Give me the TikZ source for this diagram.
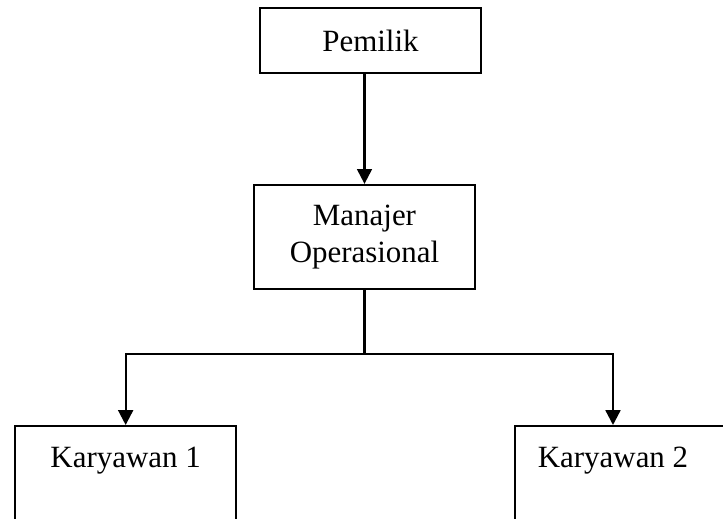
\documentclass[tikz,border=0pt]{standalone}
\usepackage{fontspec}
\setmainfont{Liberation Serif}
\usetikzlibrary{arrows.meta,calc}

\begin{document}
\begin{tikzpicture}
    [
    x=0.025cm,y=-0.025cm,
    box/.style = {draw,line width=1.6pt,minimum width=5.525cm,inner sep=0pt,align=center,font=\fontsize{22}{26}\selectfont},
    lbl/.style = {font=\fontsize{22}{26}\selectfont},
    arr/.style = {line width=1.6pt,-{Triangle[length=10.5pt,width=10.5pt]}}
    ]
\useasboundingbox (0,0) rectangle (723,519);
\clip (0,0) rectangle (723,519);

\node[box,minimum height=1.625cm] (pemilik) at (370.5,40.5) {Pemilik};
\node[box,minimum height=2.6cm] (manajer) at (364.5,237) {Manajer\\Operasional};

\node[box,minimum height=3.5cm,anchor=north west] (kary1) at (14,425) {};
\node[box,minimum height=3.5cm,anchor=north west] (kary2) at (514,425) {};
\node[lbl,anchor=base] (t1) at ($(kary1.north)+(0,42)$) {Karyawan 1};
\node[lbl,anchor=base] (t2) at ($(kary2.north west)+(99,42)$) {Karyawan 2};

\draw[arr] (pemilik.south -| manajer.north) -- (manajer.north);
\draw[line width=1.6pt] (manajer.south) -- ++(0,64) coordinate (fork);
\draw[arr] (fork) -| (kary1.north);
\draw[arr] (fork) -| ($(kary2.north west)+(99,0)$);

\end{tikzpicture}
\end{document}
